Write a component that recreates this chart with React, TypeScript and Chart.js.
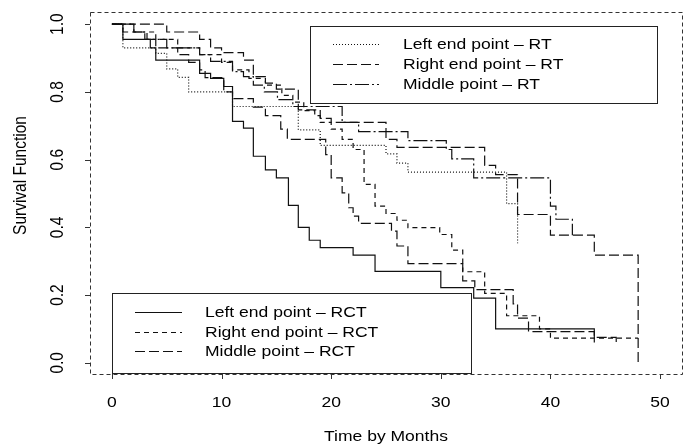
import React, { useEffect, useRef } from "react";
import { Chart, registerables } from "chart.js";

Chart.register(...registerables);

// ---- data (months, survival) ----
const leftRT_t = [0, 1, 4, 5, 6, 7, 11, 17, 19, 25, 26, 27, 36, 37];
const leftRT_s = [1, 0.93, 0.914, 0.868, 0.843, 0.8, 0.757, 0.688, 0.642, 0.617, 0.59, 0.563, 0.47, 0.353];

const rightRT_t = [0, 5, 8, 9, 10, 12, 12.9, 14, 15, 17, 19, 20, 25, 26, 34, 35, 37, 40, 44, 48];
const rightRT_s = [1, 0.977, 0.955, 0.93, 0.916, 0.894, 0.845, 0.826, 0.808, 0.747, 0.722, 0.71, 0.66, 0.636, 0.583, 0.556, 0.438, 0.377, 0.318, 0];

const midRT_t = [0, 2, 3.2, 5, 8, 9, 11, 12, 12.9, 13.9, 15.1, 16.5, 21, 22.5, 27, 30.5, 31, 33, 40, 40.5, 42];
const midRT_s = [1, 0.977, 0.955, 0.93, 0.91, 0.89, 0.86, 0.845, 0.82, 0.8, 0.777, 0.757, 0.71, 0.683, 0.656, 0.63, 0.602, 0.546, 0.463, 0.424, 0.377];

const leftRCT_t = [0, 1, 3.5, 4, 8, 9, 10.2, 11, 12, 12.9, 14, 15, 16.1, 17, 18, 19, 22, 24, 30, 33, 35, 44];
const leftRCT_s = [1, 0.955, 0.93, 0.894, 0.855, 0.84, 0.816, 0.713, 0.693, 0.61, 0.57, 0.546, 0.465, 0.4, 0.362, 0.34, 0.318, 0.27, 0.222, 0.191, 0.1, 0.06];

const rightRCT_t = [0, 2, 4, 6, 8, 10, 11, 12.5, 14, 15.5, 16.5, 17.5, 18.5, 19, 20, 21, 22, 23, 24, 25, 26, 27, 29.9, 31, 32, 34, 36, 39, 40, 48];
const rightRCT_s = [1, 0.977, 0.955, 0.93, 0.91, 0.887, 0.865, 0.84, 0.82, 0.79, 0.77, 0.745, 0.73, 0.71, 0.69, 0.66, 0.63, 0.527, 0.463, 0.441, 0.421, 0.399, 0.379, 0.333, 0.269, 0.205, 0.139, 0.1, 0.073, 0.073];

const midRCT_t = [0, 1, 3, 4, 6, 7, 8, 8.5, 10.2, 11, 12.9, 14, 15.4, 16, 19.5, 20, 21, 21.6, 22, 22.5, 25.5, 26, 27, 32, 33.1, 36.6, 37, 38, 44, 46];
const midRCT_s = [1, 0.977, 0.955, 0.93, 0.91, 0.887, 0.865, 0.842, 0.8, 0.78, 0.755, 0.73, 0.69, 0.66, 0.615, 0.546, 0.502, 0.458, 0.433, 0.412, 0.389, 0.345, 0.293, 0.242, 0.216, 0.174, 0.132, 0.092, 0.075, 0.05];

const xTicks = [0, 10, 20, 30, 40, 50];
const xTickLabels = ["0", "10", "20", "30", "40", "50"];
const yTicks = [0, 0.2, 0.4, 0.6, 0.8, 1.0];
const yTickLabels = ["0.0", "0.2", "0.4", "0.6", "0.8", "1.0"];

const xTitle = "Time by Months";
const yTitle = "Survival Function";

const legendRT = ["Left end point \u2013 RT", "Right end point \u2013 RT", "Middle point \u2013 RT"];
const legendRCT = ["Left end point \u2013 RCT", "Right end point \u2013 RCT", "Middle point \u2013 RCT"];

// ---- styles ----
const DOT = [1, 2];
const SHORT = [5, 4];
const LONG = [10, 4];
const DOTDASH = [14, 3, 2, 3];
const SOLID: number[] = [];
const LINE_COLOR = "#111";
const FONT = '15.5px "Liberation Sans", Arial, Helvetica, sans-serif';
const SX = 1.13;

const series = [
  { t: leftRT_t, s: leftRT_s, dash: DOT },
  { t: rightRT_t, s: rightRT_s, dash: LONG },
  { t: midRT_t, s: midRT_s, dash: DOTDASH },
  { t: leftRCT_t, s: leftRCT_s, dash: SOLID },
  { t: rightRCT_t, s: rightRCT_s, dash: SHORT },
  { t: midRCT_t, s: midRCT_s, dash: LONG },
];

function txt(ctx: CanvasRenderingContext2D, s: string, x: number, y: number, align: CanvasTextAlign, rotate = false) {
  ctx.save();
  ctx.translate(x, y);
  if (rotate) {
    ctx.rotate(-Math.PI / 2);
    ctx.scale(1, SX);
  } else {
    ctx.scale(SX, 1);
  }
  ctx.textAlign = align;
  ctx.textBaseline = "middle";
  ctx.fillText(s, 0, 0);
  ctx.restore();
}

function drawLegend(
  ctx: CanvasRenderingContext2D,
  box: { l: number; t: number; r: number; b: number },
  sampleX0: number,
  sampleX1: number,
  textX: number,
  rows: number[],
  labels: string[],
  dashes: number[][]
) {
  ctx.save();
  ctx.setLineDash([]);
  ctx.strokeStyle = "#222";
  ctx.lineWidth = 1;
  ctx.strokeRect(box.l + 0.5, box.t + 0.5, box.r - box.l, box.b - box.t);
  labels.forEach((lab, i) => {
    ctx.beginPath();
    ctx.setLineDash(dashes[i]);
    ctx.strokeStyle = LINE_COLOR;
    ctx.lineWidth = 1.2;
    ctx.moveTo(sampleX0, rows[i] + 0.5);
    ctx.lineTo(sampleX1, rows[i] + 0.5);
    ctx.stroke();
    ctx.fillStyle = "#000";
    ctx.font = FONT;
    txt(ctx, lab, textX, rows[i] + 1, "left");
  });
  ctx.restore();
}

const decorPlugin = {
  id: "decor",
  afterDraw(chart: any) {
    const ctx: CanvasRenderingContext2D = chart.ctx;
    const a = chart.chartArea;
    const xs = chart.scales.x;
    const ys = chart.scales.y;
    ctx.save();
    // dashed box
    ctx.strokeStyle = "#333";
    ctx.lineWidth = 1;
    ctx.setLineDash([4, 3]);
    ctx.strokeRect(Math.round(a.left) + 0.5, Math.round(a.top) + 0.5, Math.round(a.right - a.left), Math.round(a.bottom - a.top));
    ctx.setLineDash([]);
    // ticks
    ctx.beginPath();
    xTicks.forEach((v) => {
      const px = Math.round(xs.getPixelForValue(v)) + 0.5;
      ctx.moveTo(px, a.bottom);
      ctx.lineTo(px, a.bottom + 5);
    });
    yTicks.forEach((v) => {
      const py = Math.round(ys.getPixelForValue(v)) + 0.5;
      ctx.moveTo(a.left, py);
      ctx.lineTo(a.left - 5, py);
    });
    ctx.stroke();
    ctx.fillStyle = "#000";
    ctx.font = FONT;
    xTicks.forEach((v, i) => txt(ctx, xTickLabels[i], xs.getPixelForValue(v), a.bottom + 29, "center"));
    yTicks.forEach((v, i) => txt(ctx, yTickLabels[i], a.left - 32, ys.getPixelForValue(v), "center", true));
    txt(ctx, xTitle, (a.left + a.right) / 2, a.bottom + 63, "center");
    txt(ctx, yTitle, a.left - 69, ys.getPixelForValue(0.5) - 18, "center", true);
    ctx.restore();

    // legends
    const xl = (v: number) => xs.getPixelForValue(v);
    drawLegend(ctx, { l: 310, t: 26, r: 657, b: 103 }, 333, 379, 403, [44, 64, 84], legendRT, [DOT, LONG, DOTDASH]);
    drawLegend(ctx, { l: Math.round(xl(0)), t: 293, r: 471, b: 373 }, 135, 182, 205, [312, 332, 351], legendRCT, [SOLID, SHORT, LONG]);
  },
};

export default function App() {
  const ref = useRef<HTMLCanvasElement | null>(null);
  useEffect(() => {
    if (!ref.current) return;
    const chart = new Chart(ref.current, {
      type: "line",
      data: {
        datasets: series.map((sr, i) => ({
          label: "s" + i,
          data: sr.t.map((t, j) => ({ x: t, y: sr.s[j] })),
          stepped: true,
          borderColor: LINE_COLOR,
          borderWidth: 1.2,
          borderDash: sr.dash,
          pointRadius: 0,
          fill: false,
          tension: 0,
        })),
      },
      options: {
        animation: false,
        responsive: false,
        events: [],
        layout: { padding: { left: 90, right: 6, top: 12, bottom: 73 } },
        plugins: { legend: { display: false }, tooltip: { enabled: false } },
        scales: {
          x: { type: "linear", min: -2, max: 52, display: false },
          y: { type: "linear", min: -0.033, max: 1.036, display: false },
        },
      },
      plugins: [decorPlugin],
    });
    return () => chart.destroy();
  }, []);
  return (
    <div style={{ position: "absolute", left: 0, top: 0, width: 688, height: 447, background: "#fff" }}>
      <canvas ref={ref} width={688} height={447} />
    </div>
  );
}
